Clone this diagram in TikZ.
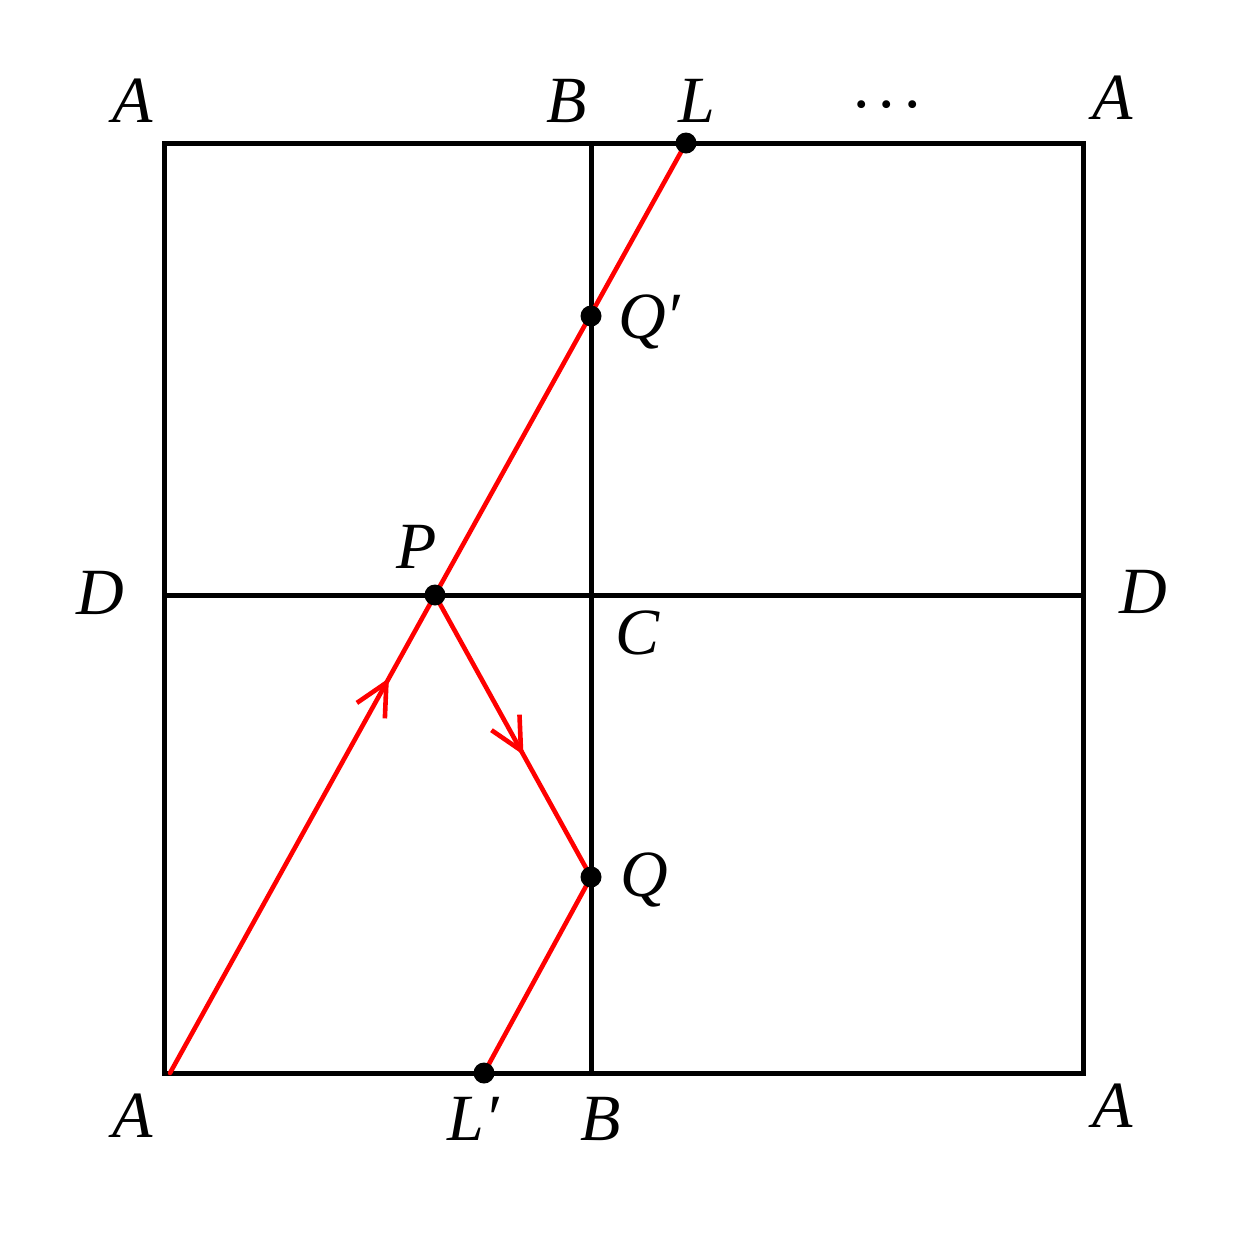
\documentclass[tikz,border=0pt]{standalone}
\usepackage{fontspec}
\setmainfont{Liberation Serif}[ItalicFont={Liberation Serif Italic}]
\usetikzlibrary{arrows.meta,decorations.markings}
\begin{document}
\begin{tikzpicture}[x=1pt,y=-1pt,
  frame/.style={line width=5pt,black},
  ray/.style={line width=4.6pt,red,line cap=round},
  dotpt/.style={circle,fill=black,inner sep=0pt,minimum size=21pt},
  lbl/.style={font=\fontsize{66}{70}\selectfont\itshape,inner sep=0pt,anchor=base},
  midarrow/.style={postaction={decorate,decoration={markings,
     mark=at position #1 with {\arrow{Straight Barb[length=32pt,width=32pt,line width=4.6pt]}}}}}
]
\useasboundingbox (0,0) rectangle (1254,1254);
% frame
\coordinate (TL) at (164,143);
\coordinate (TR) at (1083,143);
\coordinate (BR) at (1083,1073);
\coordinate (BL) at (164,1073);
\coordinate (Bt) at (591,143);
\coordinate (Bb) at (591,1073);
\coordinate (Dl) at (164,595);
\coordinate (Dr) at (1083,595);
\draw[frame,line join=miter] (TL) -- (TR) -- (BR) -- (BL) -- cycle;
\draw[frame] (Bt) -- (Bb);
\draw[frame] (Dl) -- (Dr);
% ray points
\coordinate (A0) at (170,1073);
\coordinate (P) at (435,595);
\coordinate (Q) at (591,877);
\coordinate (Qp) at (591,316);
\coordinate (L) at (686,143);
\coordinate (Lp) at (484,1073);
\draw[ray,midarrow=0.826] (A0) -- (P);
\draw[ray] (P) -- (L);
\draw[ray,midarrow=0.567] (P) -- (Q);
\draw[ray] (Q) -- (Lp);
% dots
\node[dotpt] (dP) at (P) {};
\node[dotpt] (dQ) at (Q) {};
\node[dotpt] (dQp) at (Qp) {};
\node[dotpt] (dL) at (L) {};
\node[dotpt] (dLp) at (Lp) {};
% labels
\node[lbl] (lA1) at (133,122) {A};
\node[lbl] (lB1) at (567,122) {B};
\node[lbl] (lL) at (697,122) {L};
\node[lbl] (ldots) at (886,126) {·\kern0.14em·\kern0.14em·};
\node[lbl] (lA2) at (1113,119) {A};
\node[lbl] (lD1) at (100,614) {D};
\node[lbl] (lD2) at (1143,613) {D};
\node[lbl] (lP) at (417,568) {P};
\node[lbl] (lC) at (638,654) {C};
\node[lbl,anchor=base west] (lQp) at (618,338) {Q′};
\node[lbl,anchor=base west] (lQ) at (620,896) {Q};
\node[lbl] (lA3) at (133,1137) {A};
\node[lbl] (lLp) at (473,1140) {L′};
\node[lbl] (lB2) at (601,1140) {B};
\node[lbl] (lA4) at (1113,1127) {A};
\end{tikzpicture}
\end{document}
